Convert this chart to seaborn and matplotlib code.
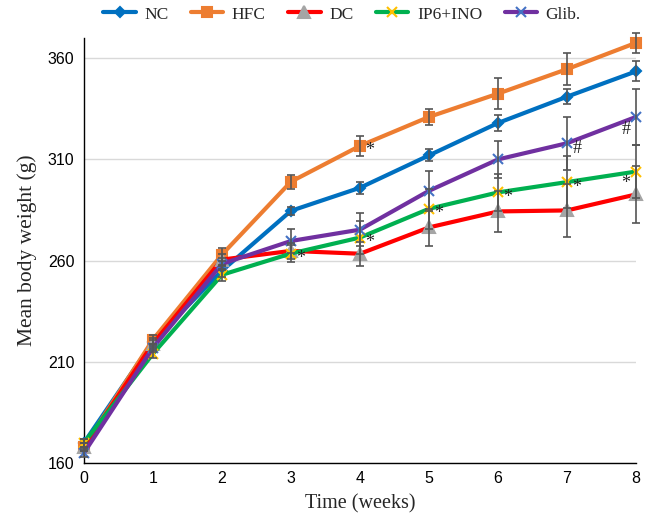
import numpy as np
import pandas as pd
import matplotlib
matplotlib.use("Agg")
import matplotlib.pyplot as plt
import seaborn as sns

weeks = [0, 1, 2, 3, 4, 5, 6, 7, 8]
groups = ["NC", "HFC", "DC", "IP6+INO", "Glib."]
nc = [170, 220, 255, 284.6, 296, 312, 328, 341, 353.5]
hfc = [168, 221, 263, 299, 316.7, 331, 342.5, 354.6, 367.6]
dc = [168, 219, 260.5, 264.8, 263.4, 276.4, 284.3, 284.8, 292.7]
ip6 = [170, 214, 253, 263.5, 271.4, 285.6, 293.7, 298.8, 304]
glib = [165, 217, 258.4, 269.7, 275.3, 294.5, 310, 318, 331]
nc_err = [2, 2, 3, 2, 3, 3, 4, 3.6, 5]
hfc_err = [2, 2, 3, 3.5, 5, 4, 7.6, 8, 5]
dc_err = [2, 2, 3, 4, 6, 9, 10, 13, 14]
ip6_err = [2, 2, 3, 4, 8, 10, 9, 13, 13]
glib_err = [2, 2, 3, 6, 8, 10, 9, 13, 14]
star_marks = [(3, 263.5, "*"), (4, 316.7, "*"), (4, 271.4, "*"), (5, 285.6, "*"),
              (6, 293.7, "*"), (7, 298.8, "*"), (7, 318, "#")]
left_marks = [(8, 304, "*"), (8, 331, "#")]

series = {"NC": nc, "HFC": hfc, "DC": dc, "IP6+INO": ip6, "Glib.": glib}
errs = {"NC": nc_err, "HFC": hfc_err, "DC": dc_err, "IP6+INO": ip6_err, "Glib.": glib_err}
df = pd.DataFrame([(g, w, v) for g in groups for w, v in zip(weeks, series[g])],
                  columns=["group", "week", "weight"])

styles = {
    "NC": dict(color="#0070C0", marker="D", mfc="#0070C0", mec="#0070C0", ms=5),
    "HFC": dict(color="#ED7D31", marker="s", mfc="#ED7D31", mec="#ED7D31", ms=7),
    "DC": dict(color="#FF0000", marker="^", mfc="#A5A5A5", mec="#A5A5A5", ms=8),
    "IP6+INO": dict(color="#00B050", marker="x", mfc="#FFC000", mec="#FFC000", ms=7),
    "Glib.": dict(color="#7030A0", marker="x", mfc="#4472C4", mec="#4472C4", ms=7),
}

sns.set_theme(style="white")
plt.rcParams["font.family"] = ["Liberation Sans", "DejaVu Sans"]
fig = plt.figure(figsize=(6.49, 5.16), dpi=100)
ax = fig.add_axes([0.1294, 0.1027, 0.8506, 0.8237])

for g in groups:
    st = styles[g]
    sub = df[df.group == g]
    sns.lineplot(data=sub, x="week", y="weight", ax=ax, color=st["color"], lw=3,
                 marker=st["marker"], markersize=st["ms"], markerfacecolor=st["mfc"],
                 markeredgecolor=st["mec"], markeredgewidth=1.5, label=g,
                 zorder=3, clip_on=False)

for g in groups:
    ax.errorbar(weeks, series[g], yerr=errs[g], fmt="none", ecolor="#555555",
                elinewidth=1.2, capsize=3, capthick=1.2, zorder=4, clip_on=False)

for x, y, s in star_marks:
    ax.text(x + 0.08, y - 2.5, s, fontsize=13, family="Liberation Serif",
            ha="left", va="center", zorder=5, color="#222222")
for x, y, s in left_marks:
    ax.text(x - 0.08, y - 6, s, fontsize=13, family="Liberation Serif",
            ha="right", va="center", zorder=5, color="#222222")

ax.set_xlim(0, 8)
ax.set_ylim(160, 370)
ax.set_xticks(range(0, 9))
ax.set_yticks([160, 210, 260, 310, 360])
ax.yaxis.grid(True, color="#D9D9D9", lw=1)
ax.set_axisbelow(True)
for s in ["top", "right"]:
    ax.spines[s].set_visible(False)
for s in ["left", "bottom"]:
    ax.spines[s].set_color("black")
    ax.spines[s].set_linewidth(1)
ax.tick_params(axis="y", labelsize=11.5, colors="black", length=0, pad=7)
ax.tick_params(axis="x", labelsize=11.5, colors="black", length=0, pad=6)
ax.set_xlabel("Time (weeks)", family="Liberation Serif", fontsize=14.5, labelpad=6)
ax.set_ylabel("Mean body weight (g)", family="Liberation Serif", fontsize=15.5, labelpad=8)

handles, labels = ax.get_legend_handles_labels()
leg = fig.legend(handles, labels, loc="center", bbox_to_anchor=(0.527, 0.972), ncol=5,
                 frameon=False, prop={"family": "Liberation Serif", "size": 12.5},
                 handlelength=1.85, columnspacing=1.3, handletextpad=0.5)
ax.get_legend().remove()

fig.savefig("out.png", dpi=100)
